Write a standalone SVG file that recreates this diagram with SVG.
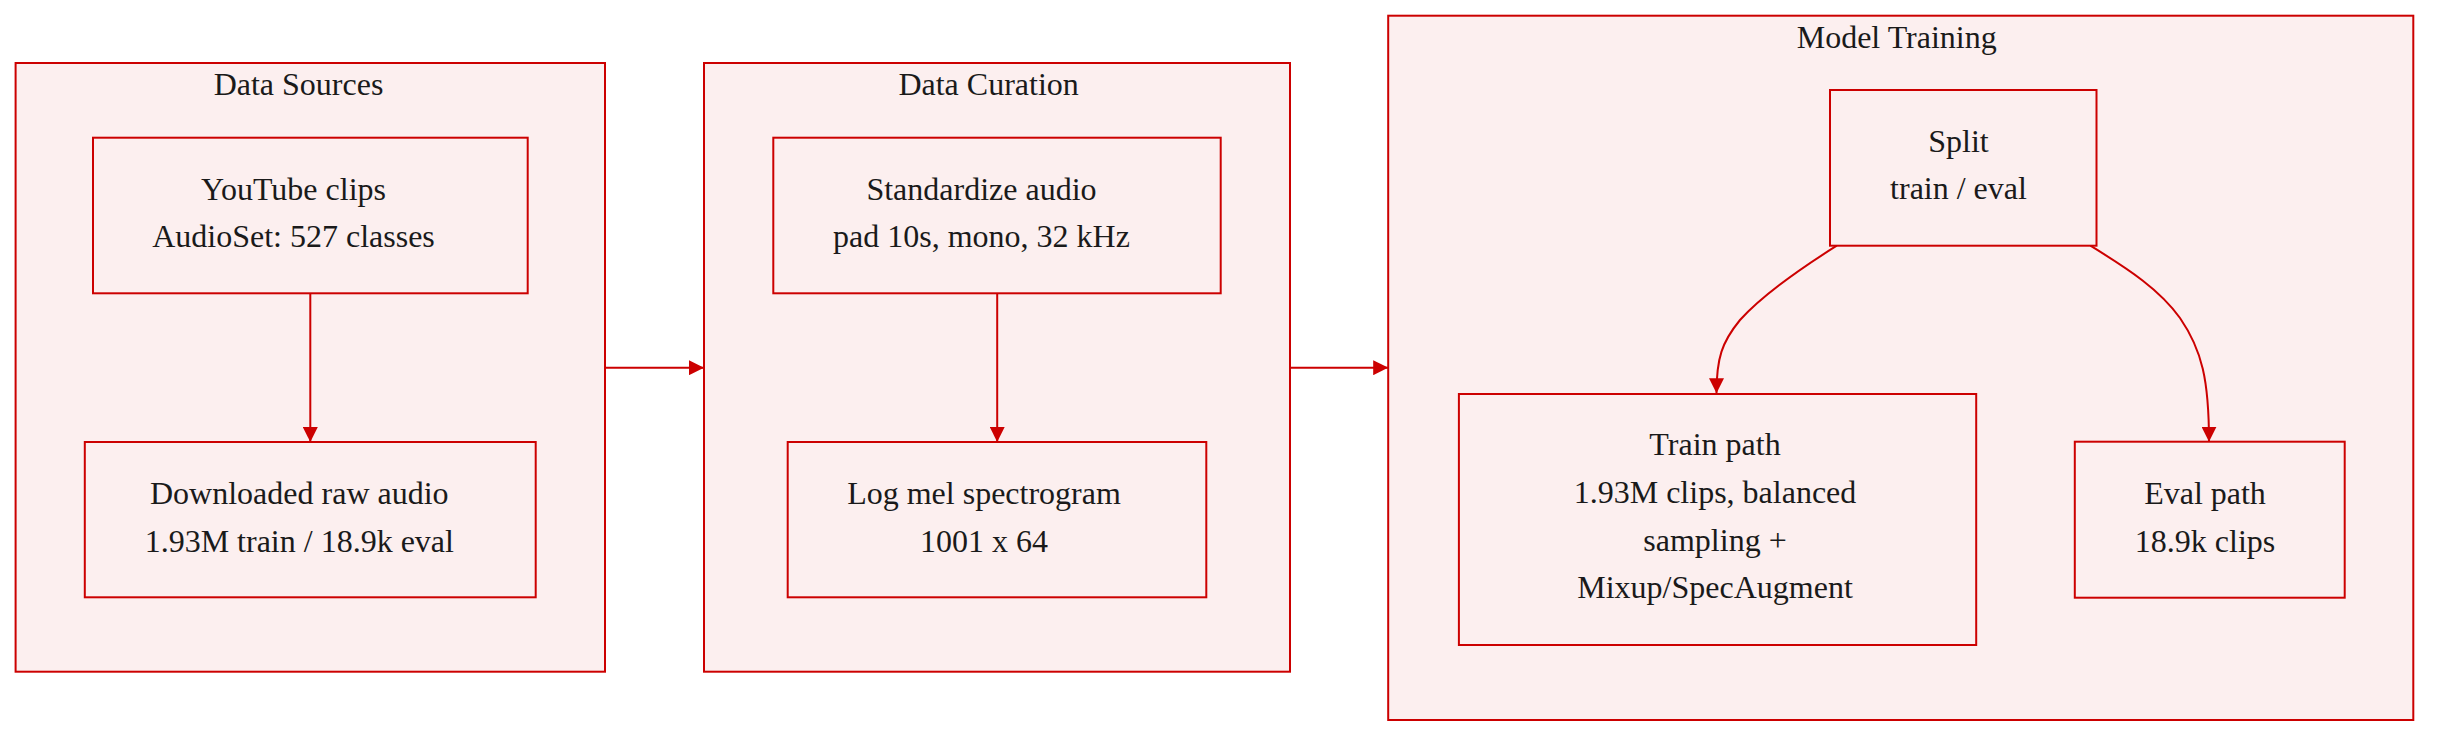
<svg xmlns="http://www.w3.org/2000/svg" width="2446" height="740" viewBox="0 0 2446 740">
<defs>
<marker id="arrow" viewBox="0 0 10 10" refX="10" refY="5" markerUnits="userSpaceOnUse" markerWidth="15" markerHeight="15" orient="auto">
<path d="M0,0 L10,5 L0,10 z" fill="#cc0000"/>
</marker>
</defs>
<style>
.cluster rect{fill:#fcefef;stroke:#cc0000;stroke-width:2}
.node rect{fill:#fcefef;stroke:#cc0000;stroke-width:2}
text{font-family:"Liberation Serif","Times New Roman",serif;font-size:32px;fill:#1a1a1a;text-anchor:middle}
.edge{fill:none;stroke:#cc0000;stroke-width:2;marker-end:url(#arrow)}
</style>
<rect width="2446" height="740" fill="#ffffff"/>
<g id="cluster-sources" class="cluster">
<rect x="15.6" y="63" width="589.4" height="608.7"/>
<text x="298.5" y="95">Data Sources</text>
</g>
<g id="cluster-curation" class="cluster">
<rect x="704" y="63" width="586" height="608.7"/>
<text x="988.6" y="95">Data Curation</text>
</g>
<g id="cluster-training" class="cluster">
<rect x="1388.2" y="15.7" width="1025.1" height="704.3"/>
<text x="1896.7" y="48.3">Model Training</text>
</g>
<g id="connectors">
<path class="edge" d="M310.3,293.3 L310.3,442"/>
<path class="edge" d="M997.2,293.3 L997.2,442"/>
<path class="edge" d="M605,367.7 L704,367.7"/>
<path class="edge" d="M1290,367.7 L1388.2,367.7"/>
<path class="edge" d="M1836.8,245.7 C1795,272 1760,298 1740,320 C1722,342 1716.5,358 1716.5,393.3"/>
<path class="edge" d="M2090.4,245.7 C2130,270 2160,290 2180,318 C2202,350 2209,380 2209,441.7"/>
</g>
<g id="node-youtube" class="node">
<rect x="93" y="137.7" width="434.7" height="155.6"/>
<text x="293.5" y="200">YouTube clips</text>
<text x="293.5" y="246.7">AudioSet: 527 classes</text>
</g>
<g id="node-downloaded" class="node">
<rect x="84.8" y="442" width="450.9" height="155.3"/>
<text x="299.3" y="504">Downloaded raw audio</text>
<text x="299.3" y="551.7">1.93M train / 18.9k eval</text>
</g>
<g id="node-standardize" class="node">
<rect x="773.3" y="137.7" width="447.4" height="155.6"/>
<text x="981.5" y="200">Standardize audio</text>
<text x="981.5" y="246.7">pad 10s, mono, 32 kHz</text>
</g>
<g id="node-logmel" class="node">
<rect x="787.7" y="442" width="418.6" height="155.3"/>
<text x="984" y="504">Log mel spectrogram</text>
<text x="984" y="551.7">1001 x 64</text>
</g>
<g id="node-split" class="node">
<rect x="1830" y="90" width="266.5" height="155.7"/>
<text x="1958.5" y="151.7">Split</text>
<text x="1958.5" y="199.3">train / eval</text>
</g>
<g id="node-train" class="node">
<rect x="1458.9" y="394" width="517.3" height="251"/>
<text x="1715" y="455">Train path</text>
<text x="1715" y="503">1.93M clips, balanced</text>
<text x="1715" y="550.7">sampling +</text>
<text x="1715" y="598.3">Mixup/SpecAugment</text>
</g>
<g id="node-eval" class="node">
<rect x="2074.8" y="441.7" width="269.9" height="156"/>
<text x="2205" y="504">Eval path</text>
<text x="2205" y="551.7">18.9k clips</text>
</g>
</svg>
